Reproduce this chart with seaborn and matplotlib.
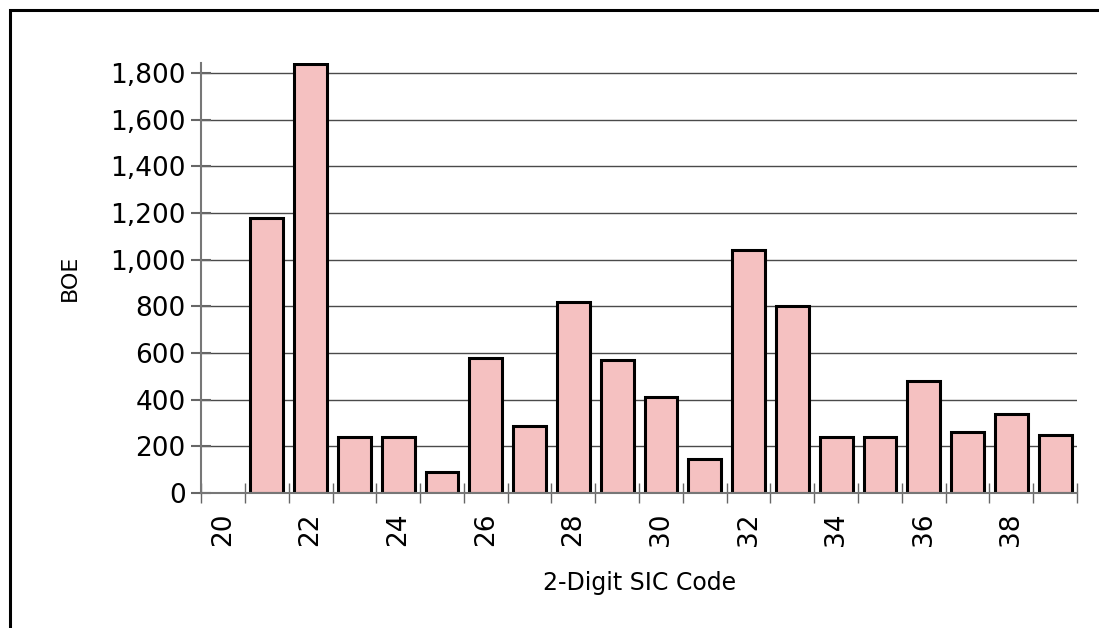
import numpy as np
import pandas as pd
import matplotlib
matplotlib.use("Agg")
import matplotlib.pyplot as plt
import seaborn as sns
from matplotlib.patches import Rectangle
from matplotlib.ticker import FuncFormatter, FixedLocator

codes = [str(c) for c in range(20, 40)]
boe = [np.nan, 1180, 1840, 240, 240, 90, 580, 285, 820, 570, 410, 145,
       1040, 800, 240, 240, 480, 260, 340, 250]
y_ticks = [0, 200, 400, 600, 800, 1000, 1200, 1400, 1600, 1800]
x_tick_labels = ["20", "22", "24", "26", "28", "30", "32", "34", "36", "38"]

df = pd.DataFrame({"code": codes, "boe": boe})

sns.set_theme(style="white")
plt.rcParams["font.family"] = ["DejaVu Sans"]
plt.rcParams["text.color"] = "black"
plt.rcParams["axes.labelcolor"] = "black"
plt.rcParams["xtick.color"] = "black"
plt.rcParams["ytick.color"] = "black"

fig = plt.figure(figsize=(10.99, 6.28), dpi=100)
ax = fig.add_axes([0.183, 0.215, 0.797, 0.685])

sns.barplot(data=df.dropna(), x="code", y="boe", order=codes, color="#F5C1C1",
            saturation=1, edgecolor="black", linewidth=2.2, width=0.75, ax=ax)

ax.set_xlim(-0.5, len(codes) - 0.5)
ax.set_ylim(0, 1843)
ax.set_yticks(y_ticks)
ax.yaxis.set_major_formatter(FuncFormatter(lambda v, p: f"{int(v):,}"))
ax.grid(axis="y", color="#4a4a4a", linewidth=1.0)
ax.set_axisbelow(True)

# category boundaries as major ticks, labels at even categories
ax.xaxis.set_major_locator(FixedLocator(np.arange(-0.5, len(codes), 1.0)))
ax.set_xticklabels([])
pos = [codes.index(l) for l in x_tick_labels]
ax.set_xticks(pos, minor=True)
ax.set_xticklabels(x_tick_labels, minor=True, rotation=90, fontsize=19,
                   color="black")
ax.tick_params(axis="x", which="minor", length=0, pad=14, labelcolor="black")
ax.tick_params(axis="x", which="major", direction="inout", length=14,
               width=1, color="#666666", bottom=True)
ax.tick_params(axis="y", direction="inout", length=14, width=1.5,
               color="#666666", left=True, labelsize=19, pad=4,
               labelcolor="black")

for s in ["top", "right"]:
    ax.spines[s].set_visible(False)
for s in ["left", "bottom"]:
    ax.spines[s].set_color("#777777")
    ax.spines[s].set_linewidth(1.5)

ax.set_xlabel("2-Digit SIC Code", fontsize=17, labelpad=18, color="black")
ax.set_ylabel("BOE", fontsize=16, labelpad=22, color="black")

fig.add_artist(Rectangle((10 / 1099, -0.2), 1.3, 1.2 - 10 / 628,
                         transform=fig.transFigure, fill=False,
                         edgecolor="black", linewidth=2.2, clip_on=False))

fig.savefig("out.png", dpi=100)
